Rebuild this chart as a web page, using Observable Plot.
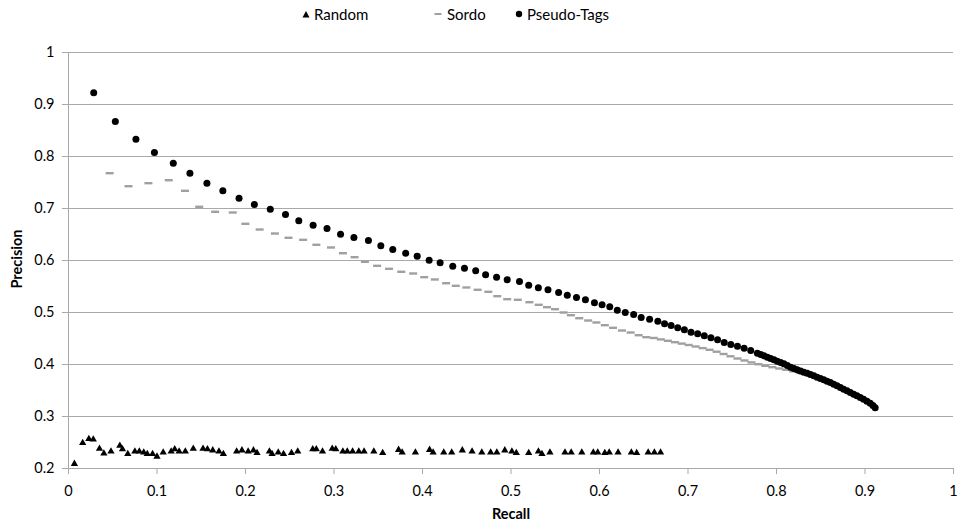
<!DOCTYPE html>
<html>
<head>
<meta charset="utf-8">
<script src="https://cdn.jsdelivr.net/npm/d3@7"></script>
<script src="https://cdn.jsdelivr.net/npm/@observablehq/plot@0.6"></script>
<style>
  html, body { margin: 0; padding: 0; background: #fff; }
  body { width: 959px; height: 527px; overflow: hidden; font-family: Lato, "Open Sans", sans-serif; }
  #legend { position: relative; height: 30px; font-size: 15px; color: #000; }
  #legend .item { position: absolute; top: 5px; display: flex; align-items: center; white-space: nowrap; }
  #legend svg { margin-right: 4px; }
</style>
</head>
<body>
<div id="legend"></div>
<div id="chart"></div>
<script>
const seriesNames = ["Random", "Sordo", "Pseudo-Tags"];
const xTicks = [0, 0.1, 0.2, 0.3, 0.4, 0.5, 0.6, 0.7, 0.8, 0.9, 1];
const yTicks = [0.2, 0.3, 0.4, 0.5, 0.6, 0.7, 0.8, 0.9, 1];

const randomRecall = [0.0067,0.016,0.023,0.028,0.035,0.040,0.048,0.058,0.061,0.067,0.075,0.080,0.085,0.089,0.095,0.100,0.107,0.116,0.120,0.125,0.132,0.141,0.152,0.157,0.163,0.170,0.175,0.190,0.196,0.203,0.209,0.213,0.227,0.230,0.237,0.243,0.252,0.259,0.276,0.280,0.287,0.298,0.302,0.310,0.315,0.321,0.328,0.334,0.345,0.355,0.373,0.377,0.392,0.408,0.412,0.424,0.433,0.445,0.456,0.467,0.477,0.484,0.493,0.501,0.506,0.520,0.531,0.535,0.544,0.561,0.568,0.580,0.593,0.598,0.606,0.611,0.621,0.636,0.642,0.655,0.662,0.669];
const randomPrecision = [0.209,0.249,0.257,0.256,0.238,0.229,0.233,0.244,0.237,0.228,0.233,0.233,0.231,0.228,0.228,0.223,0.231,0.233,0.237,0.233,0.233,0.238,0.238,0.237,0.235,0.233,0.228,0.233,0.235,0.233,0.235,0.230,0.233,0.228,0.231,0.228,0.230,0.233,0.237,0.237,0.233,0.238,0.237,0.233,0.233,0.233,0.233,0.233,0.233,0.230,0.236,0.231,0.231,0.236,0.231,0.231,0.231,0.235,0.233,0.231,0.231,0.231,0.235,0.233,0.230,0.230,0.233,0.228,0.231,0.231,0.231,0.231,0.231,0.231,0.230,0.231,0.231,0.231,0.230,0.231,0.231,0.231];

const sordoRecall = [0.0465,0.0678,0.0903,0.1133,0.1316,0.1477,0.1657,0.1856,0.1999,0.2160,0.2332,0.2486,0.2651,0.2801,0.2966,0.3101,0.3232,0.3349,0.3487,0.3622,0.3760,0.3895,0.4019,0.4139,0.4267,0.4376,0.4496,0.4623,0.4744,0.4845,0.4957,0.5077,0.5208,0.5313,0.5407,0.5497,0.5594,0.5677,0.5771,0.5872,0.5965,0.6060,0.6153,0.6254,0.6352,0.6442,0.6528,0.6614,0.6693,0.6772,0.6851,0.6929,0.7008,0.7087,0.7165,0.7244,0.7323,0.7402,0.7480,0.7559,0.7638,0.7717,0.7795,0.7874,0.7953,0.8031,0.8110,0.8189,0.8268,0.8403,0.8571,0.8740,0.8909,0.9040];
const sordoPrecision = [0.7679,0.7429,0.7487,0.7544,0.7340,0.7033,0.6937,0.6923,0.6706,0.6596,0.6519,0.6437,0.6398,0.6302,0.6250,0.6140,0.6063,0.5975,0.5898,0.5840,0.5783,0.5750,0.5679,0.5635,0.5563,0.5513,0.5481,0.5437,0.5398,0.5313,0.5256,0.5244,0.5198,0.5148,0.5102,0.5063,0.5000,0.4948,0.4890,0.4846,0.4808,0.4756,0.4706,0.4654,0.4615,0.4563,0.4525,0.4510,0.4483,0.4456,0.4429,0.4402,0.4375,0.4346,0.4315,0.4283,0.4246,0.4202,0.4158,0.4115,0.4077,0.4040,0.4006,0.3975,0.3948,0.3923,0.3898,0.3869,0.3837,0.3775,0.3665,0.3530,0.3390,0.3270];

const pseudoRecall = [0.0285,0.0529,0.0762,0.0971,0.1184,0.1372,0.1564,0.1744,0.1927,0.2100,0.2280,0.2452,0.2602,0.2764,0.2921,0.3074,0.3225,0.3389,0.3529,0.3664,0.3810,0.3940,0.4075,0.4199,0.4342,0.4474,0.4601,0.4713,0.4837,0.4957,0.5096,0.5200,0.5309,0.5418,0.5538,0.5636,0.5740,0.5841,0.5943,0.6029,0.6116,0.6201,0.6291,0.6386,0.6471,0.6566,0.6659,0.6735,0.6809,0.6884,0.6959,0.7034,0.7109,0.7184,0.7259,0.7334,0.7409,0.7484,0.7559,0.7634,0.7709,0.7784,0.7822,0.7859,0.7897,0.7934,0.7972,0.8009,0.8047,0.8084,0.8122,0.8159,0.8197,0.8234,0.8272,0.8309,0.8347,0.8384,0.8422,0.8459,0.8497,0.8534,0.8572,0.8609,0.8647,0.8684,0.8722,0.8759,0.8797,0.8834,0.8872,0.8909,0.8947,0.8984,0.9022,0.9059,0.9090,0.9115];
const pseudoPrecision = [0.9225,0.8673,0.8333,0.8077,0.7871,0.7679,0.7487,0.7340,0.7198,0.7077,0.6987,0.6885,0.6763,0.6679,0.6615,0.6506,0.6442,0.6385,0.6283,0.6212,0.6140,0.6083,0.6006,0.5956,0.5890,0.5852,0.5802,0.5725,0.5679,0.5629,0.5596,0.5525,0.5475,0.5437,0.5385,0.5333,0.5288,0.5244,0.5187,0.5148,0.5110,0.5044,0.5000,0.4962,0.4904,0.4871,0.4833,0.4783,0.4750,0.4706,0.4667,0.4621,0.4590,0.4552,0.4513,0.4475,0.4423,0.4385,0.4352,0.4313,0.4269,0.4217,0.4192,0.4167,0.4141,0.4115,0.4089,0.4063,0.4038,0.4013,0.3980,0.3948,0.3923,0.3898,0.3875,0.3852,0.3830,0.3808,0.3782,0.3756,0.3731,0.3706,0.3680,0.3654,0.3622,0.3590,0.3558,0.3525,0.3494,0.3462,0.3430,0.3398,0.3366,0.3333,0.3295,0.3256,0.3210,0.3167];

const toRows = (rx, py) => rx.map((r, i) => ({recall: r, precision: py[i]}));
const randomData = toRows(randomRecall, randomPrecision);
const sordoData = toRows(sordoRecall, sordoPrecision);
const pseudoData = toRows(pseudoRecall, pseudoPrecision);

const dashSymbol = { draw(ctx, size) { ctx.rect(-4, -1.2, 8, 2.4); } };
const fmt = d => String(+d.toFixed(1));
const gridColor = "#a9a9a9";
const font = "Lato, 'Open Sans', sans-serif";

const chart = Plot.plot({
  width: 959,
  height: 497,
  marginTop: 22,
  marginBottom: 59,
  marginLeft: 68,
  marginRight: 6,
  style: { fontFamily: font, fontSize: "14px", color: "#000", background: "#fff" },
  x: { domain: [0, 1] },
  y: { domain: [0.2, 1] },
  marks: [
    Plot.gridY(yTicks.slice(1), { stroke: gridColor, strokeOpacity: 1 }),
    Plot.ruleX([0], { stroke: gridColor }),
    Plot.ruleY([0.2], { stroke: gridColor }),
    Plot.axisY(yTicks, { tickSize: 6, tickPadding: 8, stroke: gridColor, fill: "#000", tickFormat: fmt, label: null, fontSize: 14.5 }),
    Plot.axisX(xTicks, { tickSize: 6, tickPadding: 11, stroke: gridColor, fill: "#000", tickFormat: fmt, label: null, fontSize: 14.5 }),
    Plot.text(["Recall"], { frameAnchor: "bottom", dy: 50, fontWeight: "bold", fontSize: 14.5 }),
    Plot.text(["Precision"], { frameAnchor: "left", rotate: -90, dx: -51, dy: 28, fontWeight: "bold", fontSize: 14.5 }),
    Plot.dot(randomData, { x: "recall", y: "precision", symbol: "triangle", r: 2.7, fill: "#000", stroke: "none" }),
    Plot.dot(sordoData, { x: "recall", y: "precision", symbol: dashSymbol, r: 3, fill: "#a0a0a0", stroke: "none" }),
    Plot.dot(pseudoData, { x: "recall", y: "precision", symbol: "circle", r: 3.5, fill: "#000", stroke: "none" })
  ]
});
document.getElementById("chart").appendChild(chart);

// Legend
const legend = document.getElementById("legend");
const legendPos = [302, 434, 515];
const legendIcons = [
  '<svg width="8" height="10"><path d="M4,2 L7.5,8.5 L0.5,8.5 Z" fill="#000"/></svg>',
  '<svg width="9" height="10"><rect x="0.5" y="4" width="7" height="2" fill="#a0a0a0"/></svg>',
  '<svg width="8" height="10"><circle cx="4" cy="5" r="3.2" fill="#000"/></svg>'
];
seriesNames.forEach((name, i) => {
  const item = document.createElement("div");
  item.className = "item";
  item.style.left = legendPos[i] + "px";
  item.innerHTML = legendIcons[i] + "<span>" + name + "</span>";
  legend.appendChild(item);
});
</script>
</body>
</html>
